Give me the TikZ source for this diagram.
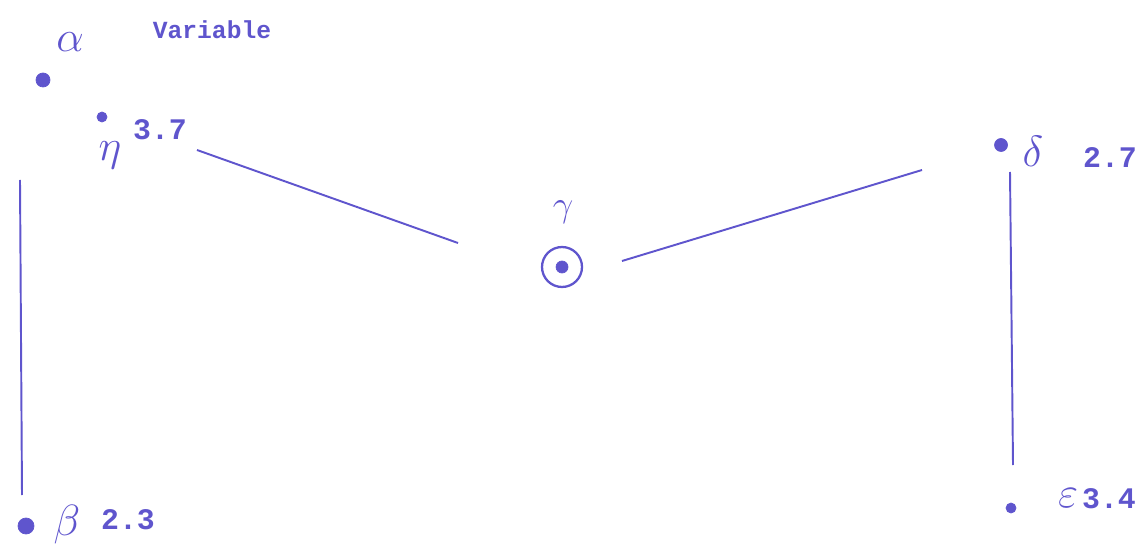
\documentclass[tikz,border=0pt]{standalone}
\usepackage{fontspec}
\setmonofont{Liberation Mono}
\definecolor{ink}{RGB}{95,85,205}
\begin{document}
\begin{tikzpicture}[x=0.02cm, y=-0.02cm,
  dot/.style={circle, fill=ink, draw=ink, inner sep=0pt},
  greek/.style={text=ink, inner sep=0pt, font=\fontsize{28}{30}\selectfont},
  val/.style={text=ink, inner sep=0pt, font=\ttfamily\bfseries\fontsize{17}{19}\selectfont},
  edge/.style={draw=ink, line width=1.1pt}
]
  \useasboundingbox (0,0) rectangle (1145,550);

  % Alpha
  \node[dot, minimum size=0.28cm] (alpha) at (43,80) {};
  \node[greek] (alphalbl) at (70,42) {$\alpha$};
  \node[val, font=\ttfamily\bfseries\fontsize{14}{16}\selectfont] (alphaval) at (212,30) {Variable};

  % Eta
  \node[dot, minimum size=0.2cm] (eta) at (102,117) {};
  \node[greek] (etalbl) at (110,155) {$\eta$};
  \node[val] (etaval) at (160,130) {3.7};

  % Gamma
  \node[greek, font=\fontsize{22}{24}\selectfont] (gammalbl) at (563,212) {$\gamma$};
  \node[circle, draw=ink, line width=1.3pt, minimum size=0.8cm] (gamma) at (562,267) {};
  \node[dot, minimum size=0.24cm] (gammac) at (gamma) {};

  % Delta
  \node[dot, minimum size=0.26cm] (delta) at (1001,145) {};
  \node[greek] (deltalbl) at (1033,151) {$\delta$};
  \node[val] (deltaval) at (1110,158) {2.7};

  % Epsilon
  \node[dot, minimum size=0.2cm] (eps) at (1011,508) {};
  \node[greek] (epslbl) at (1068,498) {$\varepsilon$};
  \node[val] (epsval) at (1109,499) {3.4};

  % Beta
  \node[dot, minimum size=0.32cm] (beta) at (26,526) {};
  \node[greek] (betalbl) at (67,525) {$\beta$};
  \node[val] (betaval) at (128,520) {2.3};

  % Line ends
  \coordinate (l1a) at (197,150);
  \coordinate (l1b) at (458,243);
  \coordinate (l2a) at (622,261);
  \coordinate (l2b) at (922,170);
  \coordinate (l3a) at (20,180);
  \coordinate (l3b) at (22,495);
  \coordinate (l4a) at (1010,172);
  \coordinate (l4b) at (1013,465);

  % Connecting lines
  \draw[edge] (l1a) -- (l1b);
  \draw[edge] (l2a) -- (l2b);
  \draw[edge] (l3a) -- (l3b);
  \draw[edge] (l4a) -- (l4b);
\end{tikzpicture}
\end{document}
